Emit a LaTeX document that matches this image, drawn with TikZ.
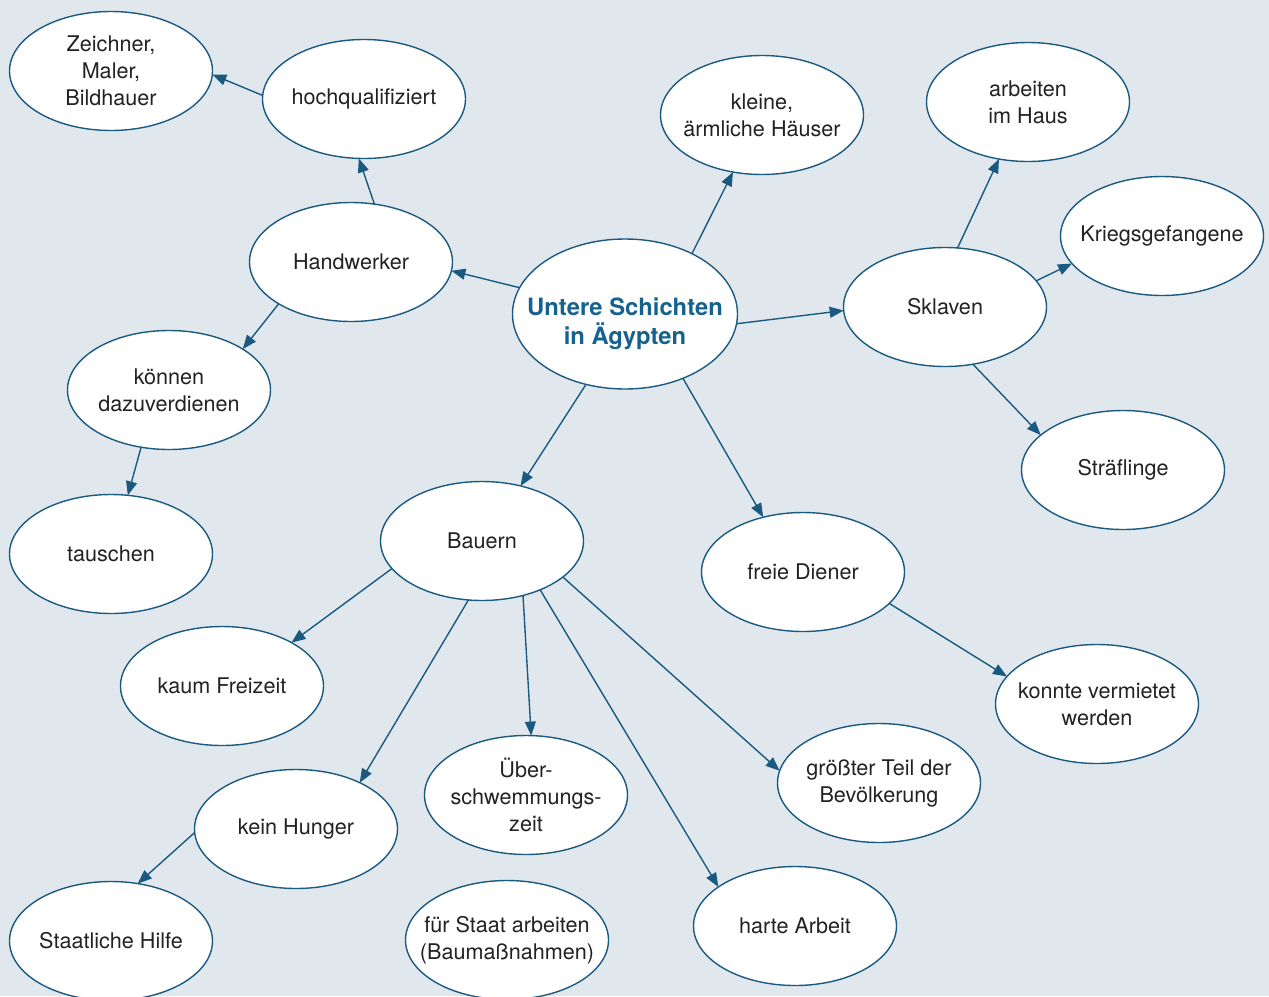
\documentclass[tikz,border=0pt]{standalone}
\usepackage{fontspec}
\setmainfont{TeX Gyre Heros}
\usetikzlibrary{shapes.geometric,arrows.meta}
\definecolor{bgc}{HTML}{E0E8ED}
\definecolor{edgec}{HTML}{1B5A80}
\definecolor{titlec}{HTML}{16628F}
\definecolor{txtc}{HTML}{222222}
\newcommand\bubble[3]{\node[bub] (#1) at (#2) {};
  \node[txt] (#1-t) at (#1) {#3};}
\begin{document}
\begin{tikzpicture}[x=1pt,y=-1pt,
  bub/.style={ellipse, draw=edgec, fill=white, line width=1.4pt,
    minimum width=203pt, minimum height=119pt, inner sep=0pt, outer sep=0pt},
  txt/.style={inner sep=0pt, align=center, text=txtc,
    font=\fontsize{21.6}{27}\selectfont},
  hub/.style={bub, minimum width=225pt, minimum height=150pt},
  hubtxt/.style={txt, text=titlec, font=\fontsize{23.8}{29}\selectfont\bfseries},
  con/.style={draw=edgec, line width=1.4pt, -{Triangle[length=14pt,width=11pt]}}]
\fill[bgc] (0,0) rectangle (1269,996);
\useasboundingbox (0,0) rectangle (1269,996);

\node[hub] (c) at (625,314) {};
\node[hubtxt] (c-t) at (625,324) {Untere Schichten\\in Ägypten};
\bubble{zeich}{111,71}{Zeichner,\\Maler,\\Bildhauer}
\bubble{hoch}{364,99}{hochqualifiziert}
\bubble{kleine}{762,115}{kleine,\\ärmliche Häuser}
\bubble{haus}{1028,102}{arbeiten\\im Haus}
\bubble{krieg}{1162,236}{Kriegsgefangene}
\bubble{hand}{351,262}{Handwerker}
\bubble{skla}{945,307}{Sklaven}
\bubble{konn}{169,390}{können\\dazuverdienen}
\bubble{straf}{1123,470}{Sträflinge}
\bubble{tau}{111,554}{tauschen}
\bubble{bau}{482,541}{Bauern}
\bubble{frei}{803,572}{freie Diener}
\bubble{kaum}{222,686}{kaum Freizeit}
\bubble{verm}{1097,704}{konnte vermietet\\werden}
\bubble{ueber}{526,795}{Über-\\schwemmungs-\\zeit}
\bubble{gross}{879,783}{größter Teil der\\Bevölkerung}
\bubble{hung}{296,829}{kein Hunger}
\bubble{staat}{111,941}{Staatliche Hilfe}
\bubble{arb}{507,940}{für Staat arbeiten\\(Baumaßnahmen)}
\bubble{hart}{795,926}{harte Arbeit}

\draw[con] (c.42) -- (kleine.243);
\draw[con] (c.166) -- (hand.-5);
\draw[con] (c.-5.6) -- (skla.182);
\draw[con] (c.241) -- (bau.55.6);
\draw[con] (c.312) -- (frei.126.4);
\draw[con] (hand.68.4) -- (hoch.265);
\draw[con] (hoch.178.3) -- (zeich.-2.8);
\draw[con] (hand.210.3) -- (konn.29.7);
\draw[con] (konn.244.6) -- (tau.74.4);
\draw[con] (skla.78.5) -- (haus.243);
\draw[con] (skla.16.5) -- (krieg.197.9);
\draw[con] (skla.-64.2) -- (straf.157);
\draw[con] (bau.197.9) -- (kaum.32.6);
\draw[con] (bau.257.8) -- (hung.36.6);
\draw[con] (bau.-53.1) -- (ueber.85.3);
\draw[con] (bau.-40.8) -- (hart.153.1);
\draw[con] (bau.-24.5) -- (gross.173.2);
\draw[con] (hung.182.8) -- (staat.65);
\draw[con] (frei.-20.4) -- (verm.163.8);
\end{tikzpicture}
\end{document}
